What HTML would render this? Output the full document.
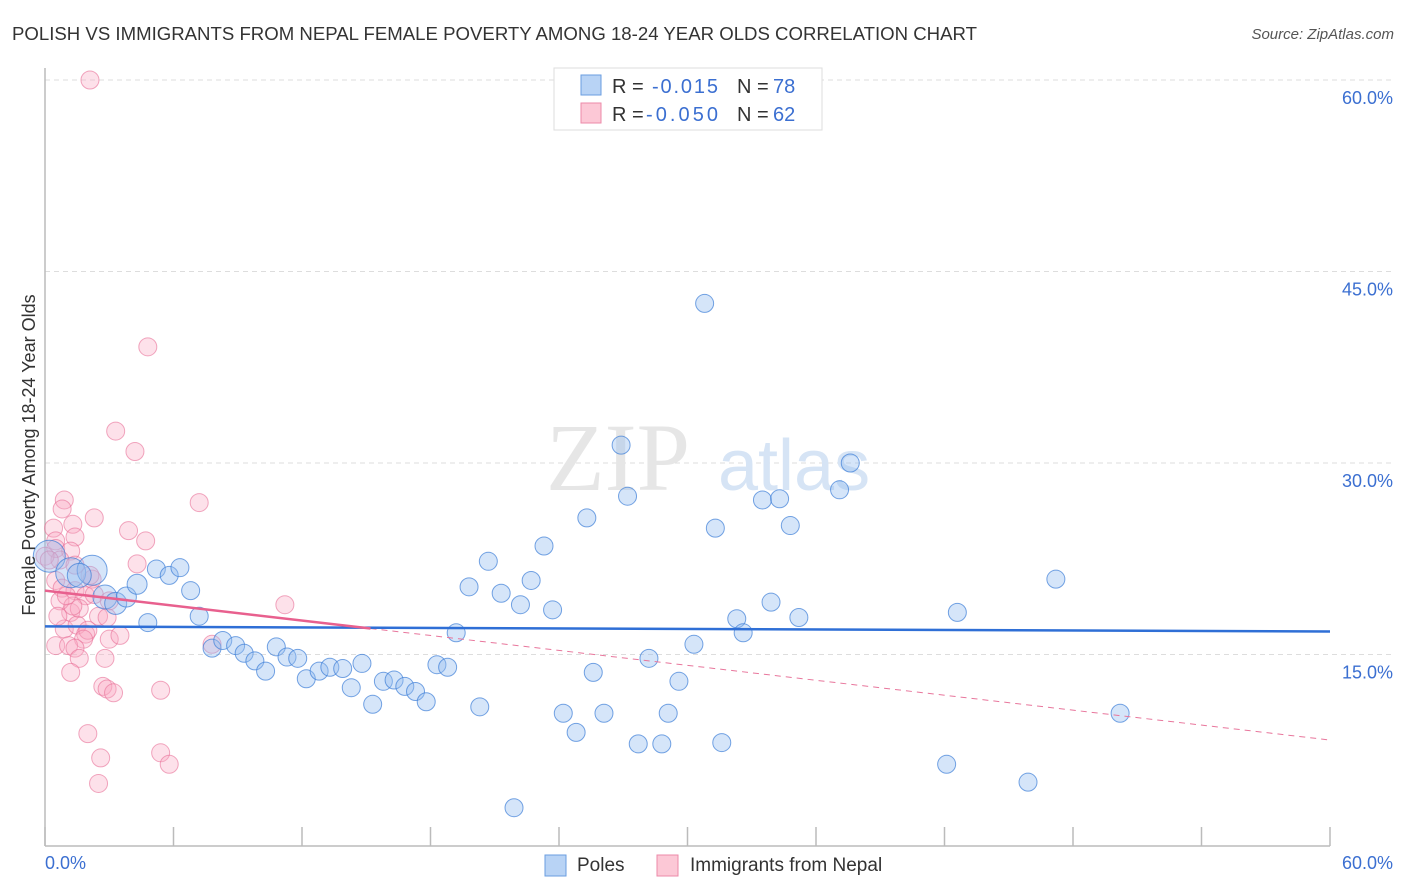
<!DOCTYPE html>
<html><head><meta charset="utf-8"><style>
body{margin:0;background:#fff;font-family:"Liberation Sans",sans-serif;}
svg{display:block}
</style></head><body>
<svg width="1406" height="892" xmlns="http://www.w3.org/2000/svg">
<text x="12" y="40" font-size="18" fill="#333" textLength="965" lengthAdjust="spacingAndGlyphs">POLISH VS IMMIGRANTS FROM NEPAL FEMALE POVERTY AMONG 18-24 YEAR OLDS CORRELATION CHART</text>
<text x="1394" y="39" font-size="15" fill="#555" text-anchor="end" font-style="italic">Source: ZipAtlas.com</text>
<g id="grid"></g>
<text x="690" y="490" font-size="96" fill="#e6e6e6" text-anchor="end" font-family="Liberation Serif">ZIP</text>
<text x="718" y="490" font-size="72" fill="#d6e4f5">atlas</text>
<g id="pts"></g>
<g id="trends"></g>
<text transform="translate(35,455) rotate(-90)" font-size="18" fill="#333" text-anchor="middle">Female Poverty Among 18-24 Year Olds</text>
<text x="45" y="869" font-size="18" fill="#3b6fd1">0.0%</text>
<text x="1393" y="869" font-size="18" fill="#3b6fd1" text-anchor="end">60.0%</text>
<g>
<rect x="554" y="68" width="268" height="62" fill="#fff" stroke="#ddd"/>
<rect x="581" y="75" width="20" height="20" fill="#b8d3f5" stroke="#6a9ee0"/>
<rect x="581" y="103" width="20" height="20" fill="#fcc8d6" stroke="#ec8aa8"/>
<text x="612" y="93" font-size="20" fill="#333">R = </text><text x="652" y="93" font-size="20" fill="#3b6fd1" textLength="66">-0.015</text>
<text x="737" y="93" font-size="20" fill="#333">N = </text><text x="773" y="93" font-size="20" fill="#3b6fd1">78</text>
<text x="612" y="121" font-size="20" fill="#333">R = </text><text x="646" y="121" font-size="20" fill="#3b6fd1" textLength="72">-0.050</text>
<text x="737" y="121" font-size="20" fill="#333">N = </text><text x="773" y="121" font-size="20" fill="#3b6fd1">62</text>
</g>
<g>
<rect x="545" y="855" width="21" height="21" fill="#b8d3f5" stroke="#6a9ee0"/>
<text x="577" y="871" font-size="19" fill="#333">Poles</text>
<rect x="657" y="855" width="21" height="21" fill="#fcc8d6" stroke="#ec8aa8"/>
<text x="690" y="871" font-size="19" fill="#333">Immigrants from Nepal</text>
</g>
</svg>
<script>
const yTicks=[15,30,45,60];
const yTickLabels=["15.0%","30.0%","45.0%","60.0%"];
const xTicks=[0,6,12,18,24,30,36,42,48,54,60];
const polesX=[0.2,1.2,2.2,1.6,2.8,3.3,3.8,4.3,4.8,5.2,5.8,6.3,6.8,7.2,7.8,8.3,8.9,9.3,9.8,10.3,10.8,11.3,11.8,12.2,12.8,13.3,13.9,14.3,14.8,15.3,15.8,16.3,16.8,17.3,17.8,18.3,18.8,19.2,19.8,20.3,20.7,21.3,21.9,22.2,22.7,23.3,23.7,24.2,24.8,25.3,25.6,26.1,26.9,27.2,27.7,28.2,28.8,29.1,29.6,30.3,30.8,31.3,31.6,32.3,32.6,33.5,33.9,34.3,34.8,35.2,37.1,37.6,42.1,42.6,45.9,47.2,50.2];
const polesY=[22.7,21.4,21.6,21.2,19.5,19.0,19.5,20.5,17.5,21.7,21.2,21.8,20.0,18.0,15.5,16.1,15.7,15.1,14.5,13.7,15.6,14.8,14.7,13.1,13.7,14.0,13.9,12.4,14.3,11.1,12.9,13.0,12.5,12.1,11.3,14.2,14.0,16.7,20.3,10.9,22.3,19.8,3.0,18.9,20.8,23.5,18.5,10.4,8.9,25.7,13.6,10.4,31.4,27.4,8.0,14.7,8.0,10.4,12.9,15.8,42.5,24.9,8.1,17.8,16.7,27.1,19.1,27.2,25.1,17.9,27.9,30.0,6.4,18.3,5.0,20.9,10.4];
const polesR=[16,15,15,12,12,11,10,10,9,9,9,9,9,9,9,9,9,9,9,9,9,9,9,9,9,9,9,9,9,9,9,9,9,9,9,9,9,9,9,9,9,9,9,9,9,9,9,9,9,9,9,9,9,9,9,9,9,9,9,9,9,9,9,9,9,9,9,9,9,9,9,9,9,9,9,9,9];
const nepalX=[2.1,4.8,3.3,4.2,7.2,0.9,0.8,2.3,1.3,3.9,1.4,4.7,0.4,0.5,0.5,1.2,0.7,1.4,4.3,0.5,0.8,1.4,2.2,1.9,2.3,11.2,1.2,1.6,2.5,2.9,0.9,1.5,1.9,2.0,1.8,3.0,0.5,1.1,1.4,1.6,2.8,1.2,7.8,2.7,2.9,3.2,5.4,2.0,2.6,5.4,5.8,2.5,0.0,0.2,0.7,2.1,1.3,0.6,1.0,3.0,3.5];
const nepalY=[60.0,39.1,32.5,30.9,26.9,27.1,26.4,25.7,25.2,24.7,24.2,23.9,24.9,23.9,23.3,23.1,22.4,22.0,22.1,20.8,20.2,20.0,20.9,19.6,19.7,18.9,18.3,18.6,18.0,17.9,17.0,17.3,16.6,16.9,16.2,16.2,15.7,15.7,15.5,14.7,14.7,13.6,15.8,12.5,12.3,12.0,12.2,8.8,6.9,7.3,6.4,4.9,22.7,22.4,19.2,21.2,18.8,18.0,19.6,19.2,16.5];
const polesTrend=[17.2,16.8];
const nepalTrend=[20.0,8.3];
const nepalSolidEnd=15.2;
const NS="http://www.w3.org/2000/svg";
const X=v=>45+v*(1285/60);
const Y=v=>846-v*(766/60);
function mk(tag,attrs,parent){const e=document.createElementNS(NS,tag);for(const k in attrs)e.setAttribute(k,attrs[k]);parent.appendChild(e);return e;}
const grid=document.getElementById('grid');
yTicks.forEach((t,i)=>{
 const l=mk('line',{x1:45,x2:1393,y1:Y(t),y2:Y(t),stroke:'#ddd','stroke-dasharray':'5,4'},grid);
 
 
 const tx=mk('text',{x:1393,y:Y(t)+24,'font-size':18,fill:'#3b6fd1','text-anchor':'end'},grid);
 tx.textContent=yTickLabels[i];
 
 
});
const ax=mk('line',{x1:45,x2:1330,y1:846,y2:846,stroke:'#bbb','stroke-width':1.5},grid);


const ay=mk('line',{x1:45,x2:45,y1:68,y2:846,stroke:'#bbb','stroke-width':1.5},grid);


xTicks.forEach(t=>{
 const l=mk('line',{x1:X(t),x2:X(t),y1:827,y2:846,stroke:'#bbb','stroke-width':1.5},grid);
 
 
});
const pts=document.getElementById('pts');
nepalX.forEach((x,i)=>{
 const c=mk('circle',{cx:X(x),cy:Y(nepalY[i]),r:9,fill:'rgba(248,170,195,0.35)',stroke:'rgba(232,110,150,0.6)','stroke-width':1},pts);
 
 
});
polesX.forEach((x,i)=>{
 const c=mk('circle',{cx:X(x),cy:Y(polesY[i]),r:polesR[i],fill:'rgba(150,190,240,0.4)',stroke:'rgba(60,125,215,0.7)','stroke-width':1},pts);
 
 
});
const tr=document.getElementById('trends');
const nAt=v=>nepalTrend[0]+(nepalTrend[1]-nepalTrend[0])*v/60;
const d1=mk('line',{x1:X(nepalSolidEnd),y1:Y(nAt(nepalSolidEnd)),x2:X(60),y2:Y(nepalTrend[1]),stroke:'#e8769c','stroke-width':1,'stroke-dasharray':'6,5'},tr);


const pl=mk('line',{x1:X(0),y1:Y(polesTrend[0]),x2:X(60),y2:Y(polesTrend[1]),stroke:'#2f6fd6','stroke-width':2.5},tr);


const ns=mk('line',{x1:X(0),y1:Y(nepalTrend[0]),x2:X(nepalSolidEnd),y2:Y(nAt(nepalSolidEnd)),stroke:'#e8608e','stroke-width':2.5},tr);


</script>
</body></html>
